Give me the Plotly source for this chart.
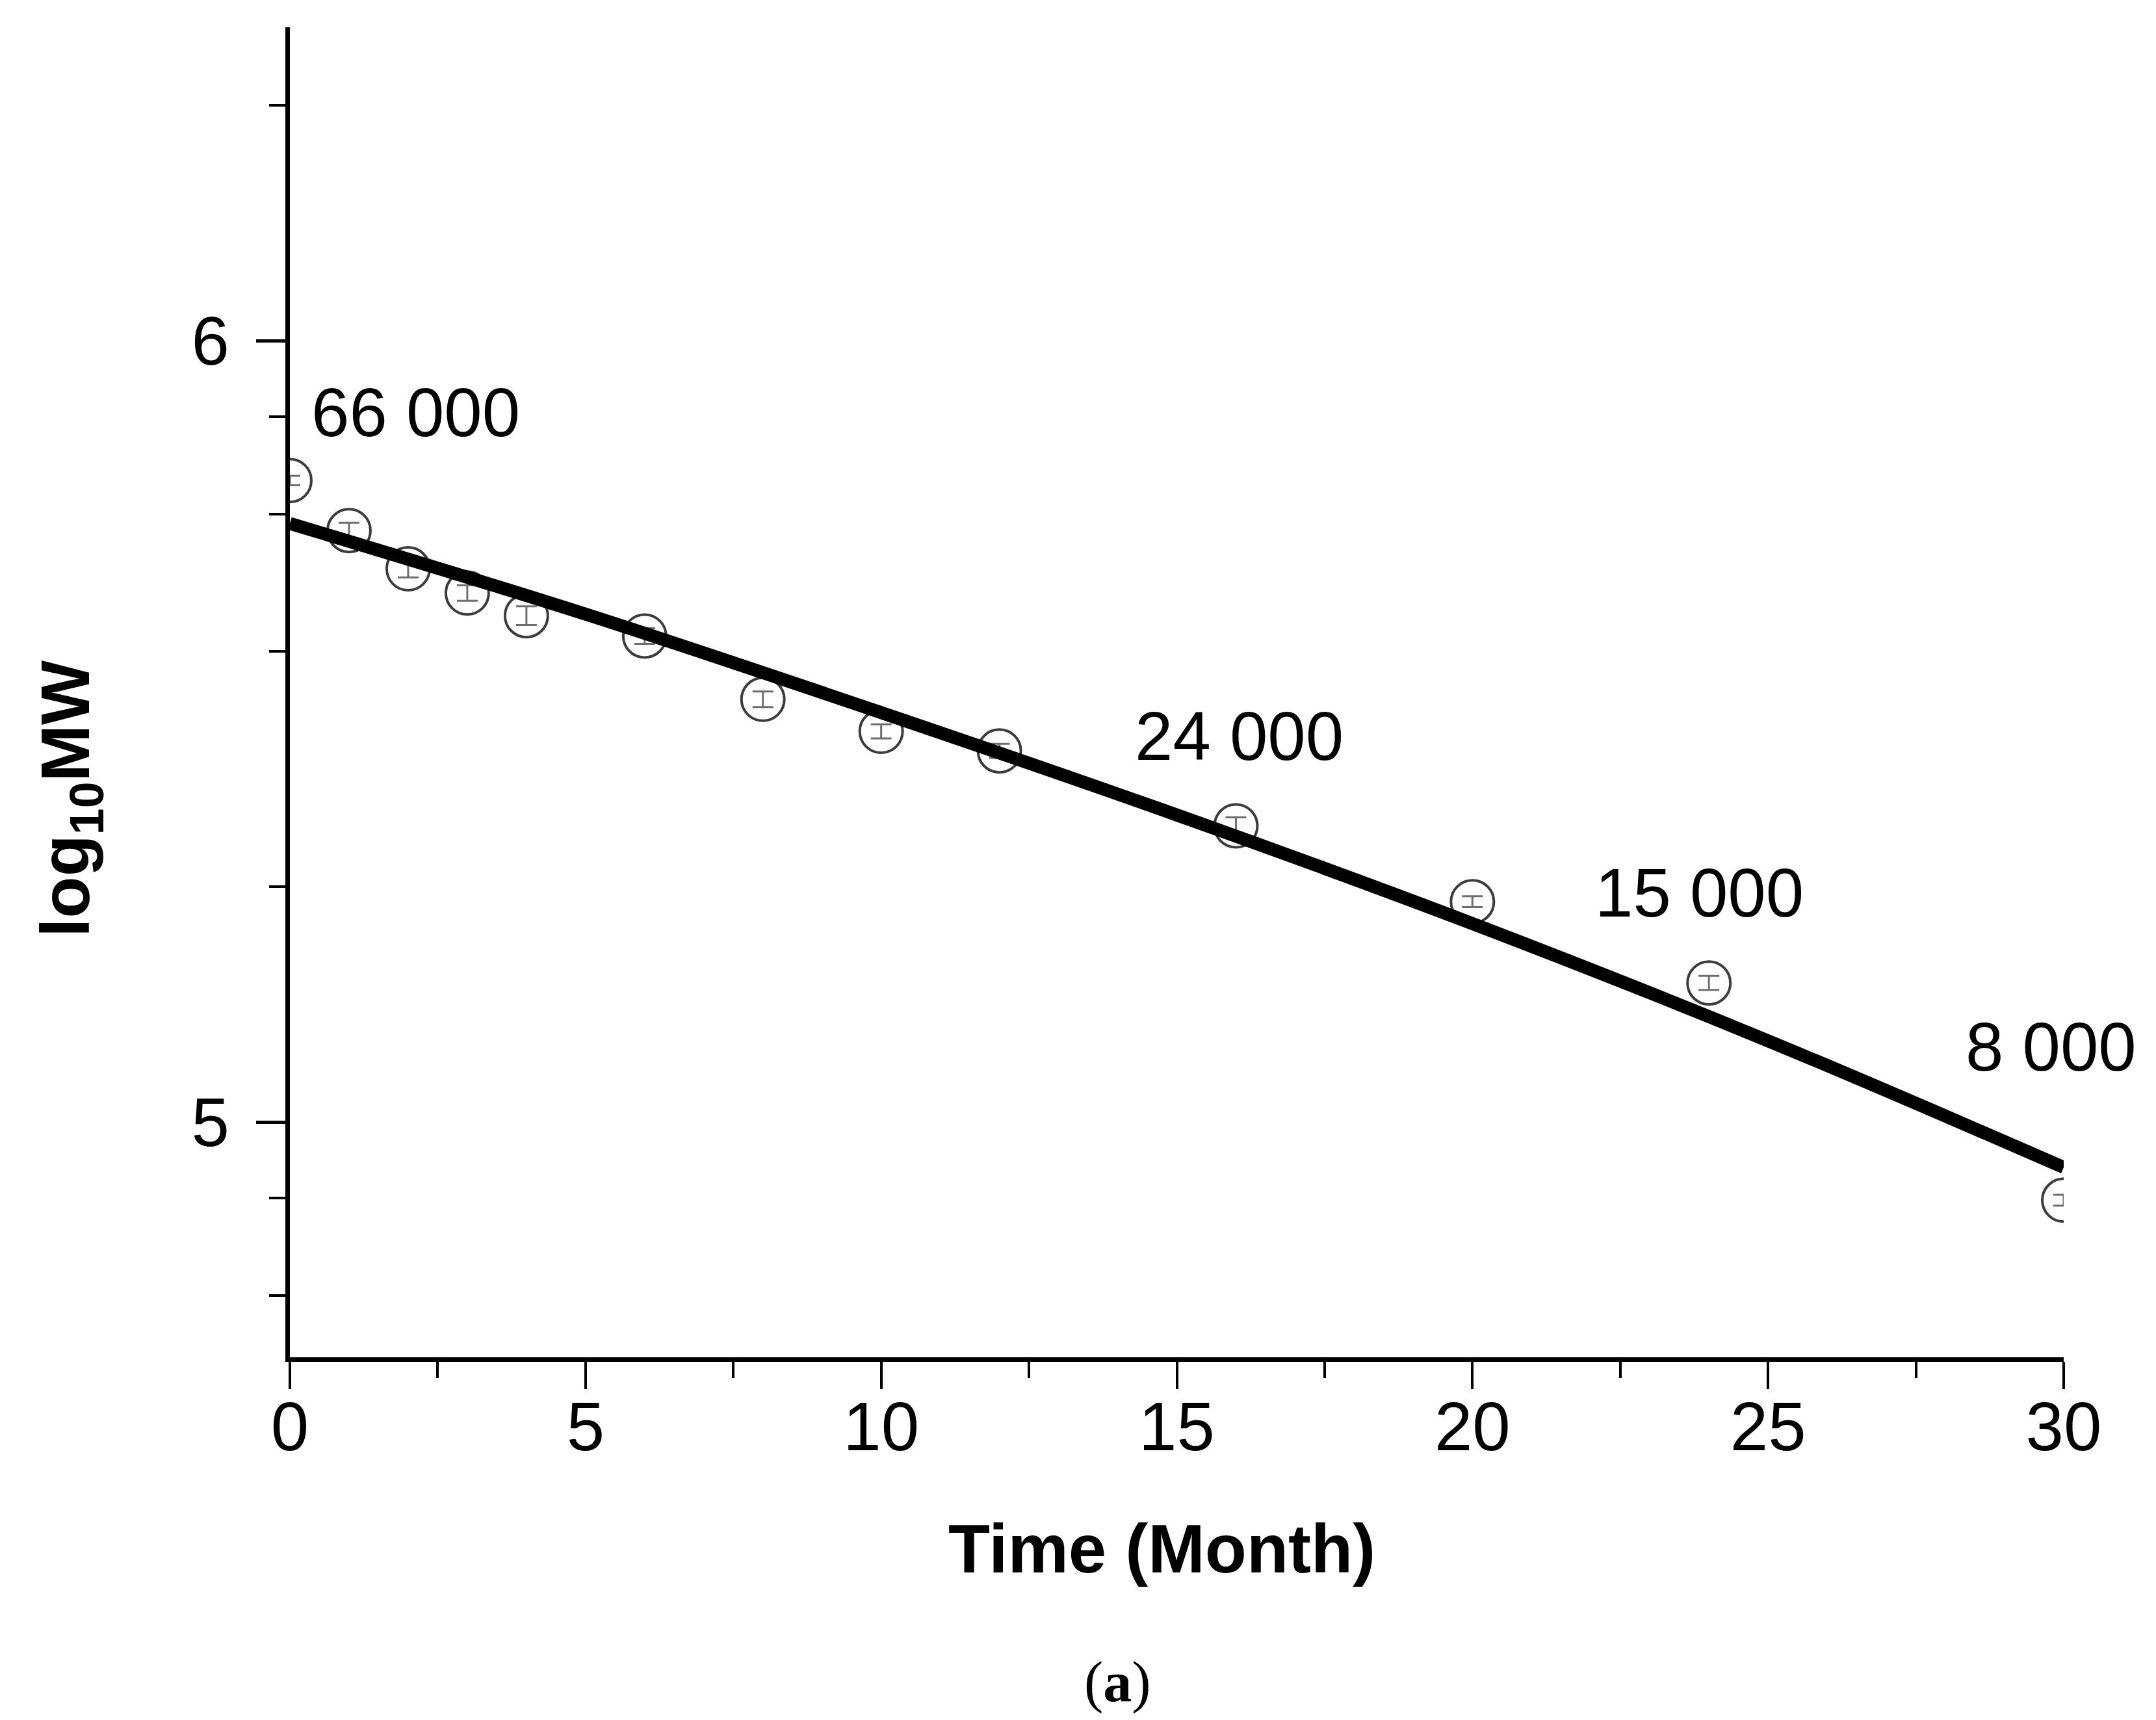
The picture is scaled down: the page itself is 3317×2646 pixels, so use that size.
import numpy as np
import plotly.graph_objects as go

# ---- data ----
time_months = [0, 1, 2, 3, 4, 6, 8, 10, 12, 16, 20, 24, 30]
log10_mw = [5.821, 5.757, 5.708, 5.677, 5.648, 5.622, 5.541, 5.500, 5.475, 5.379, 5.282, 5.178, 4.900]
log10_mw_err = [0.006, 0.010, 0.011, 0.010, 0.012, 0.010, 0.010, 0.009, 0.009, 0.011, 0.007, 0.009, 0.007]

# fitted curve at several times
fit_x = [0, 5, 10, 15, 20, 25, 30]
fit_y = [5.766, 5.650, 5.524, 5.393, 5.254, 5.104, 4.942]

mw_labels = ["66 000", "24 000", "15 000", "8 000"]

x_major_ticks = [0, 5, 10, 15, 20, 25, 30]
x_minor_ticks = [2.5, 7.5, 12.5, 17.5, 22.5, 27.5]
y_major_ticks = [5, 6]
y_major_text = ["5", "6"]
y_minor_mw = [6e4, 8e4, 2e5, 4e5, 6e5, 8e5, 2e6]

FONT = "Liberation Sans, Arial, Helvetica, sans-serif"

fig = go.Figure()

fig.add_trace(go.Scatter(
    x=time_months, y=log10_mw, mode="markers",
    marker=dict(symbol="circle-open", size=66, color="#3c3c3c", line=dict(width=4)),
    error_y=dict(type="data", array=log10_mw_err, color="#6e6e6e", thickness=3, width=16),
    showlegend=False,
))

fig.add_trace(go.Scatter(
    x=fit_x, y=fit_y, mode="lines",
    line=dict(color="black", width=20, shape="spline"),
    showlegend=False,
))

W, H = 3317, 2646
L, R, T, B = 438, 150, 34, 566

fig.update_layout(
    width=W, height=H,
    margin=dict(l=L, r=R, t=T, b=B, pad=0),
    paper_bgcolor="white", plot_bgcolor="white",
    font=dict(family=FONT, color="black", size=105),
    showlegend=False,
)

fig.update_xaxes(
    range=[0, 30], tickmode="array", tickvals=x_major_ticks,
    ticks="outside", ticklen=42, tickwidth=4, tickcolor="black",
    showline=True, linewidth=7, linecolor="black",
    showgrid=False, zeroline=False,
    tickfont=dict(family=FONT, size=105, color="black"),
    ticklabelstandoff=-32,
    minor=dict(tickvals=x_minor_ticks, ticks="outside", ticklen=25, tickwidth=4,
               tickcolor="black", showgrid=False),
)

fig.update_yaxes(
    range=[4.699, 6.401], tickmode="array", tickvals=y_major_ticks, ticktext=y_major_text,
    ticks="outside", ticklen=45, tickwidth=5, tickcolor="black",
    showline=True, linewidth=7, linecolor="black",
    showgrid=False, zeroline=False,
    tickfont=dict(family=FONT, size=105, color="black"),
    ticklabelstandoff=20,
    minor=dict(tickvals=list(np.log10(y_minor_mw)), ticks="outside", ticklen=25, tickwidth=4,
               tickcolor="black", showgrid=False),
)

# value labels
label_pos = [(2.13, 5.908), (16.05, 5.494), (23.84, 5.293), (29.79, 5.096)]
for txt, (px, py) in zip(mw_labels, label_pos):
    fig.add_annotation(x=px, y=py, xref="x", yref="y", text=txt, showarrow=False,
                       xanchor="center", yanchor="middle",
                       font=dict(family=FONT, size=105, color="black"))

# axis titles
fig.add_annotation(x=0.4915, y=-0.1440, xref="paper", yref="paper",
                   text="<b>Time (Month)</b>", showarrow=False,
                   xanchor="center", yanchor="middle",
                   font=dict(family=FONT, size=105, color="black"))
fig.add_annotation(x=-0.1235, y=0.4200, xref="paper", yref="paper",
                   text="<b>log<sub>10</sub>MW</b>", showarrow=False, textangle=-90,
                   xanchor="center", yanchor="middle",
                   font=dict(family=FONT, size=105, color="black"))
# caption
fig.add_annotation(x=0.4665, y=-0.2440, xref="paper", yref="paper",
                   text="(<b>a</b>)", showarrow=False,
                   xanchor="center", yanchor="middle",
                   font=dict(family="Liberation Serif, DejaVu Serif, serif", size=88, color="black"))

fig.write_html("out.html")
